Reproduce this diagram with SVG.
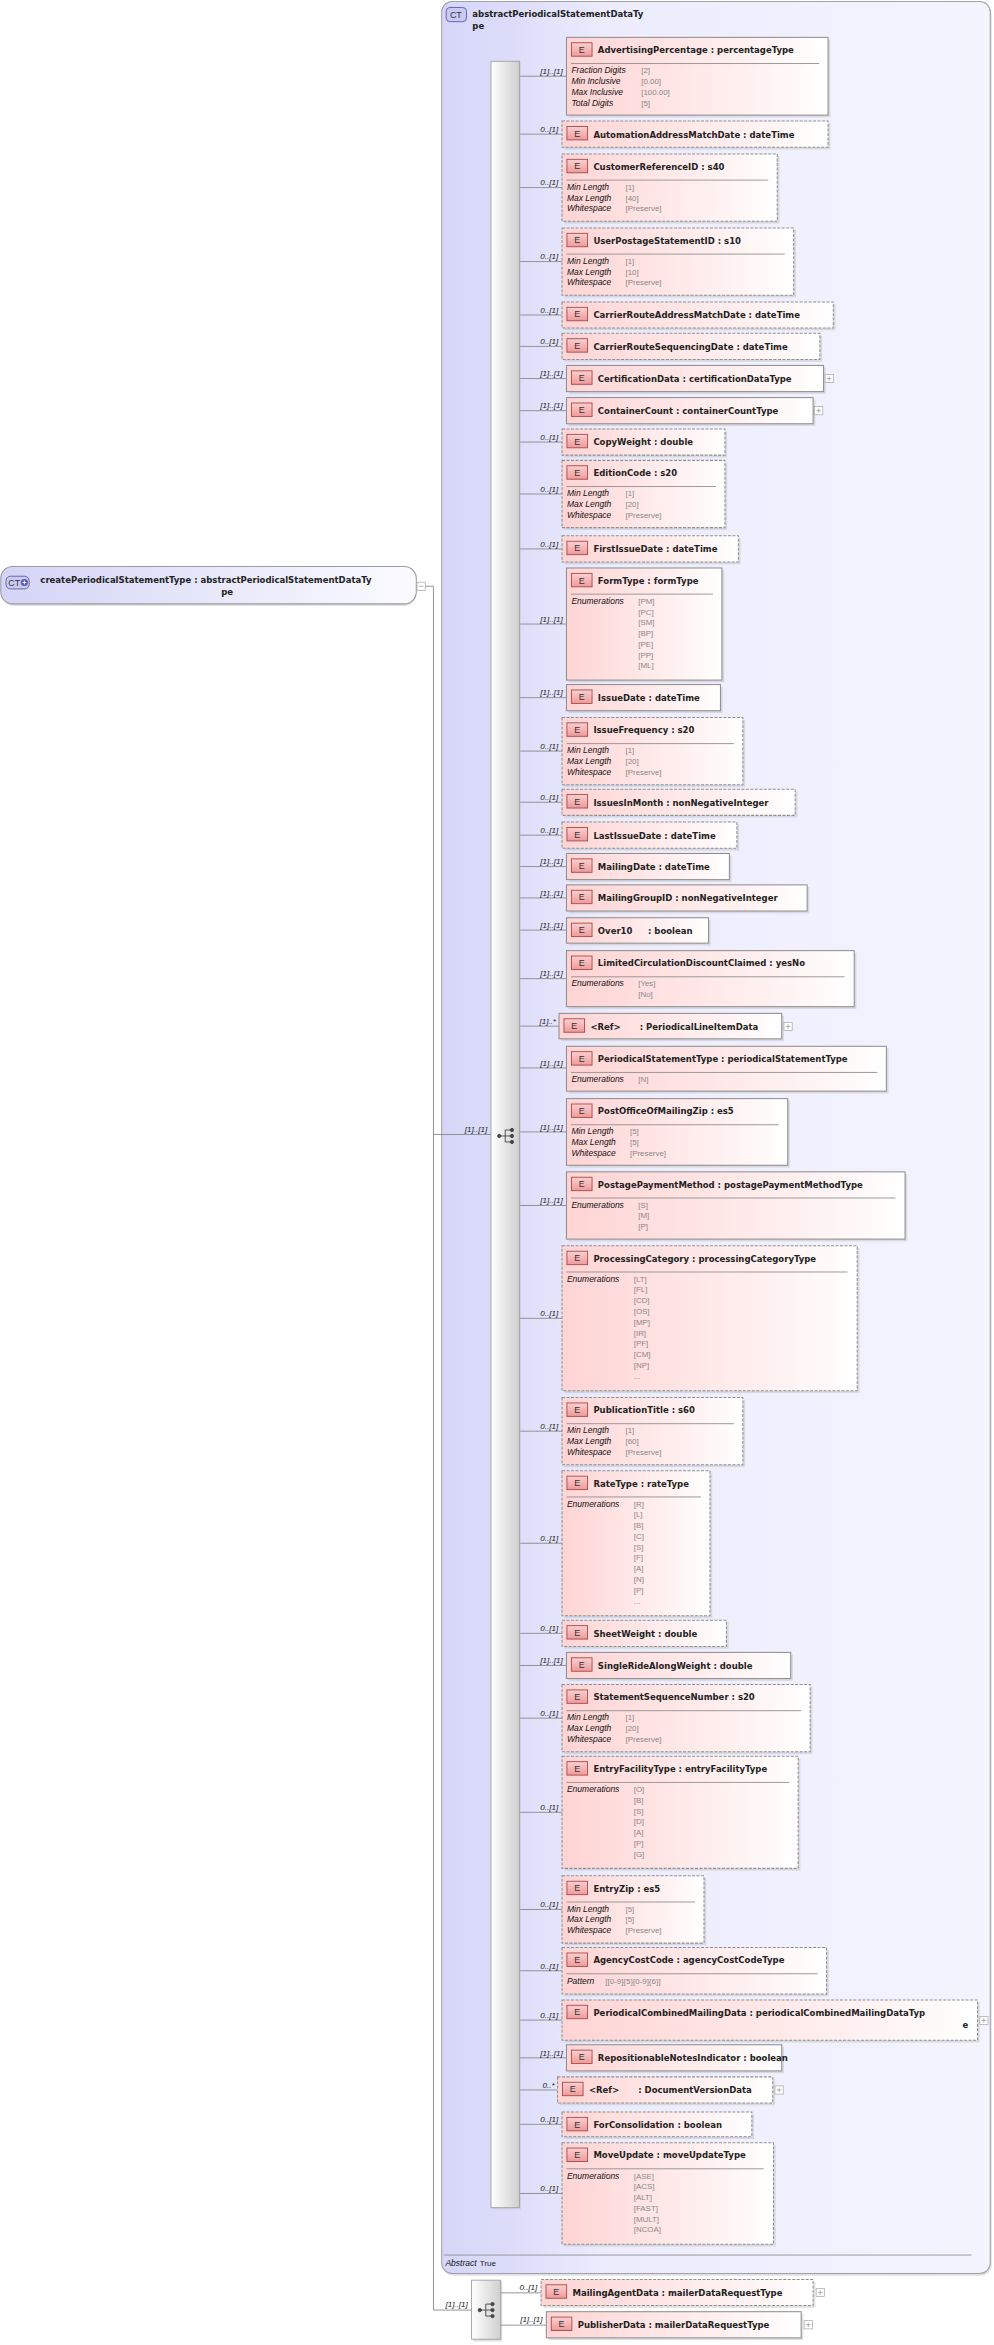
<svg xmlns="http://www.w3.org/2000/svg" width="994" height="2345" viewBox="0 0 994 2345">
<defs>
<linearGradient id="ge" x1="0" y1="0" x2="1" y2="0"><stop offset="0" stop-color="#ffd4d4"/><stop offset=".75" stop-color="#fff3f3"/><stop offset="1" stop-color="#ffffff"/></linearGradient>
<linearGradient id="gi" x1="0" y1="0" x2="0" y2="1"><stop offset="0" stop-color="#fbd0d0"/><stop offset="1" stop-color="#ee9a9a"/></linearGradient>
<linearGradient id="gct" x1="0" y1="0" x2="1" y2="0"><stop offset="0" stop-color="#d6d6f8"/><stop offset=".12" stop-color="#dcdcfa"/><stop offset=".3" stop-color="#ececfd"/><stop offset="1" stop-color="#f4f4ff"/></linearGradient>
<linearGradient id="grt" x1="0" y1="0" x2="1" y2="0"><stop offset="0" stop-color="#d4d4f6"/><stop offset="1" stop-color="#fbfbff"/></linearGradient>
<linearGradient id="gs" x1="0" y1="0" x2="1" y2="0"><stop offset="0" stop-color="#ffffff"/><stop offset="1" stop-color="#cfcfcf"/></linearGradient>
<style>
.el{fill:url(#ge);stroke:#8f8f8f;stroke-width:.7}
.d{stroke-dasharray:2 1}
.sh{fill:#bdbdbd;opacity:.45}
.ei{fill:url(#gi);stroke:#a94848;stroke-width:.6}
.ee{font:6px "Liberation Sans",Arial,sans-serif;fill:#333;text-anchor:middle}
.t{font:bold 5.7px "DejaVu Sans",sans-serif;fill:#222}
.sep{stroke:#909090;stroke-width:.6}
.fl{font:italic 5.7px "Liberation Sans",Arial,sans-serif;fill:#111}
.fv{font:5.3px "Liberation Sans",Arial,sans-serif;fill:#888}
.c{font:italic 5.4px "Liberation Sans",Arial,sans-serif;fill:#222;text-anchor:end}
.cn{stroke:#8a8a8a;stroke-width:.6;fill:none}
.pb{fill:#fff;stroke:#aaa;stroke-width:.5}
.pp{stroke:#999;stroke-width:.5}
.sq{fill:url(#gs);stroke:#a0a0a0;stroke-width:.6}
.si{fill:#444;stroke:#444;stroke-width:.6}
.ct{fill:#c9c9f2;stroke:#5b5ba8;stroke-width:.6}
.ctt{font:6px "Liberation Sans",Arial,sans-serif;fill:#333}
</style>
</defs>
<g transform="scale(1.4947)">
<g id="abstractType">
<rect x="296.5" y="2.5" width="367" height="1520" rx="7" fill="#bdbdbd" opacity=".45"/>
<rect x="295.5" y="1" width="367" height="1520" rx="7" fill="url(#gct)" stroke="#a0a0a8" stroke-width=".7"/>
<rect class="ct" x="298.5" y="5" width="13.6" height="9.5" rx="2.5"/>
<text class="ctt" x="301" y="12.3">CT</text>
<text class="t" x="316" y="11.3">abstractPeriodicalStatementDataTy</text>
<text class="t" x="316" y="19.6">pe</text>
<line x1="297" y1="1508.7" x2="650" y2="1508.7" stroke="#909090" stroke-width=".6"/>
<text class="fl" x="298" y="1516">Abstract</text>
<text x="321" y="1516" style="font:5.4px 'Liberation Sans',Arial,sans-serif;fill:#222">True</text>
</g>
<g id="root">
<rect x="1.5" y="380.5" width="277" height="25" rx="8" fill="#bdbdbd" opacity=".45"/>
<rect x="0.5" y="379" width="278" height="25" rx="8" fill="url(#grt)" stroke="#9a9aa8" stroke-width=".7"/>
<rect class="ct" x="4" y="385.5" width="15.5" height="8.5" rx="3"/>
<text class="ctt" x="5.5" y="392">CT</text>
<circle cx="16.3" cy="389.7" r="2.4" fill="#5b5ba8"/>
<path d="M15 389.7h2.6M16.3 388.4v2.6" stroke="#fff" stroke-width=".6"/>
<text class="t" x="27" y="389.8">createPeriodicalStatementType : abstractPeriodicalStatementDataTy</text>
<text class="t" x="148" y="397.8">pe</text>
<rect class="pb" x="279" y="389.5" width="5.5" height="5.5"/>
<line class="pp" x1="280.2" y1="392.2" x2="283.3" y2="392.2"/>
</g>
<g id="seq1">
<rect x="329.5" y="42" width="19" height="1436" fill="#bdbdbd" opacity=".45"/>
<rect class="sq" x="328.5" y="41" width="19" height="1436"/>
<circle class="si" cx="334" cy="760" r="1.1"/>
<path class="cn" d="M334 760h4M338 756v8M338 756h4M338 760h4M338 764h4" style="stroke:#444"/>
<circle class="si" cx="342.5" cy="756" r="1.1"/><circle class="si" cx="342.5" cy="760" r="1.1"/><circle class="si" cx="342.5" cy="764" r="1.1"/>
</g>
<g id="seq2">
<rect x="316.5" y="1526.5" width="19.5" height="40" fill="#bdbdbd" opacity=".45"/>
<rect class="sq" x="315.5" y="1525.5" width="19.5" height="39.5"/>
<circle class="si" cx="321" cy="1545.5" r="1.1"/>
<path class="cn" d="M321 1545.5h4M325 1541.5v8M325 1541.5h4M325 1545.5h4M325 1549.5h4" style="stroke:#444"/>
<circle class="si" cx="329.5" cy="1541.5" r="1.1"/><circle class="si" cx="329.5" cy="1545.5" r="1.1"/><circle class="si" cx="329.5" cy="1549.5" r="1.1"/>
</g>
<g id="connectors">
<path class="cn" d="M284.5 392.2H290V1545.5H315.5M290 759H328.5M335 1534H362M335 1555.6H365.5"/>
<text class="c" x="326" y="757.5">[1]..[1]</text>
<text class="c" x="313" y="1543.5">[1]..[1]</text>
<text class="c" x="359.5" y="1532">0..[1]</text>
<text class="c" x="363" y="1553.8">[1]..[1]</text>
<path class="cn" d="M348 51H379M348 89.75H376M348 125.5H376M348 175H376M348 210.75H376M348 231.75H376M348 253.25H379M348 274.75H379M348 295.75H376M348 330.5H376M348 367.25H376M348 417.5H379M348 466.75H379M348 502.5H376M348 536.75H376M348 558.75H376M348 579.75H379M348 600.75H379M348 622.25H379M348 654.75H379M348 686.5H374M348 714.5H379M348 757.3H379M348 806.5H379M348 882H376M348 957.5H376M348 1032.5H376M348 1092.75H376M348 1114.25H379M348 1149.5H376M348 1212.5H376M348 1277.5H376M348 1318.5H376M348 1351.5H376M348 1376.75H379M348 1398.25H373M348 1421.25H376M348 1467.5H376"/>
<text class="c" x="376.5" y="49.5">[1]..[1]</text>
<text class="c" x="373.5" y="88.2">0..[1]</text>
<text class="c" x="373.5" y="124">0..[1]</text>
<text class="c" x="373.5" y="173.5">0..[1]</text>
<text class="c" x="373.5" y="209.2">0..[1]</text>
<text class="c" x="373.5" y="230.2">0..[1]</text>
<text class="c" x="376.5" y="251.7">[1]..[1]</text>
<text class="c" x="376.5" y="273.2">[1]..[1]</text>
<text class="c" x="373.5" y="294.2">0..[1]</text>
<text class="c" x="373.5" y="329">0..[1]</text>
<text class="c" x="373.5" y="365.7">0..[1]</text>
<text class="c" x="376.5" y="416">[1]..[1]</text>
<text class="c" x="376.5" y="465.2">[1]..[1]</text>
<text class="c" x="373.5" y="501">0..[1]</text>
<text class="c" x="373.5" y="535.2">0..[1]</text>
<text class="c" x="373.5" y="557.2">0..[1]</text>
<text class="c" x="376.5" y="578.2">[1]..[1]</text>
<text class="c" x="376.5" y="599.2">[1]..[1]</text>
<text class="c" x="376.5" y="620.7">[1]..[1]</text>
<text class="c" x="376.5" y="653.2">[1]..[1]</text>
<text class="c" x="372" y="685">[1]..*</text>
<text class="c" x="376.5" y="713">[1]..[1]</text>
<text class="c" x="376.5" y="755.8">[1]..[1]</text>
<text class="c" x="376.5" y="805">[1]..[1]</text>
<text class="c" x="373.5" y="880.5">0..[1]</text>
<text class="c" x="373.5" y="956">0..[1]</text>
<text class="c" x="373.5" y="1031">0..[1]</text>
<text class="c" x="373.5" y="1091.2">0..[1]</text>
<text class="c" x="376.5" y="1112.7">[1]..[1]</text>
<text class="c" x="373.5" y="1148">0..[1]</text>
<text class="c" x="373.5" y="1211">0..[1]</text>
<text class="c" x="373.5" y="1276">0..[1]</text>
<text class="c" x="373.5" y="1317">0..[1]</text>
<text class="c" x="373.5" y="1350">0..[1]</text>
<text class="c" x="376.5" y="1375.2">[1]..[1]</text>
<text class="c" x="371" y="1396.7">0..*</text>
<text class="c" x="373.5" y="1419.7">0..[1]</text>
<text class="c" x="373.5" y="1466">0..[1]</text>
</g>

<g id="e1" transform="translate(379,25)"><rect class="sh" x="1.5" y="1.5" width="175" height="52"/><rect class="el" width="175" height="52"/><rect class="ei" x="3.3" y="3.6" width="13.8" height="9"/><text class="ee" x="10.2" y="10.4">E</text><text class="t" x="21" y="10.6">AdvertisingPercentage : percentageType</text><line class="sep" x1="3" y1="17.5" x2="169" y2="17.5"/>
<text class="fl" x="3.3" y="24">Fraction Digits</text><text class="fv" x="50" y="24">[2]</text>
<text class="fl" x="3.3" y="31.2">Min Inclusive</text><text class="fv" x="50" y="31.2">[0.00]</text>
<text class="fl" x="3.3" y="38.4">Max Inclusive</text><text class="fv" x="50" y="38.4">[100.00]</text>
<text class="fl" x="3.3" y="45.6">Total Digits</text><text class="fv" x="50" y="45.6">[5]</text></g>

<g id="e2" transform="translate(376,81)"><rect class="sh" x="1.5" y="1.5" width="178" height="17.5"/><rect class="el d" width="178" height="17.5"/><rect class="ei" x="3.3" y="3.6" width="13.8" height="9"/><text class="ee" x="10.2" y="10.4">E</text><text class="t" x="21" y="11">AutomationAddressMatchDate : dateTime</text></g>

<g id="e3" transform="translate(376,103)"><rect class="sh" x="1.5" y="1.5" width="144" height="45"/><rect class="el d" width="144" height="45"/><rect class="ei" x="3.3" y="3.6" width="13.8" height="9"/><text class="ee" x="10.2" y="10.4">E</text><text class="t" x="21" y="10.6">CustomerReferenceID : s40</text><line class="sep" x1="3" y1="17.5" x2="138" y2="17.5"/>
<text class="fl" x="3.3" y="24">Min Length</text><text class="fv" x="42.5" y="24">[1]</text>
<text class="fl" x="3.3" y="31.2">Max Length</text><text class="fv" x="42.5" y="31.2">[40]</text>
<text class="fl" x="3.3" y="38.4">Whitespace</text><text class="fv" x="42.5" y="38.4">[Preserve]</text></g>

<g id="e4" transform="translate(376,152.5)"><rect class="sh" x="1.5" y="1.5" width="155" height="45"/><rect class="el d" width="155" height="45"/><rect class="ei" x="3.3" y="3.6" width="13.8" height="9"/><text class="ee" x="10.2" y="10.4">E</text><text class="t" x="21" y="10.6">UserPostageStatementID : s10</text><line class="sep" x1="3" y1="17.5" x2="149" y2="17.5"/>
<text class="fl" x="3.3" y="24">Min Length</text><text class="fv" x="42.5" y="24">[1]</text>
<text class="fl" x="3.3" y="31.2">Max Length</text><text class="fv" x="42.5" y="31.2">[10]</text>
<text class="fl" x="3.3" y="38.4">Whitespace</text><text class="fv" x="42.5" y="38.4">[Preserve]</text></g>

<g id="e5" transform="translate(376,202)"><rect class="sh" x="1.5" y="1.5" width="181.5" height="17.5"/><rect class="el d" width="181.5" height="17.5"/><rect class="ei" x="3.3" y="3.6" width="13.8" height="9"/><text class="ee" x="10.2" y="10.4">E</text><text class="t" x="21" y="11">CarrierRouteAddressMatchDate : dateTime</text></g>

<g id="e6" transform="translate(376,223)"><rect class="sh" x="1.5" y="1.5" width="172.5" height="17.5"/><rect class="el d" width="172.5" height="17.5"/><rect class="ei" x="3.3" y="3.6" width="13.8" height="9"/><text class="ee" x="10.2" y="10.4">E</text><text class="t" x="21" y="11">CarrierRouteSequencingDate : dateTime</text></g>

<g id="e7" transform="translate(379,244.5)"><rect class="sh" x="1.5" y="1.5" width="172" height="17.5"/><rect class="el" width="172" height="17.5"/><rect class="ei" x="3.3" y="3.6" width="13.8" height="9"/><text class="ee" x="10.2" y="10.4">E</text><text class="t" x="21" y="11">CertificationData : certificationDataType</text><rect class="pb" x="173" y="6" width="5.5" height="5.5"/><path class="pp" d="M174.2 8.75h3.1M175.75 7.2v3.1"/></g>

<g id="e8" transform="translate(379,266)"><rect class="sh" x="1.5" y="1.5" width="165" height="17.5"/><rect class="el" width="165" height="17.5"/><rect class="ei" x="3.3" y="3.6" width="13.8" height="9"/><text class="ee" x="10.2" y="10.4">E</text><text class="t" x="21" y="11">ContainerCount : containerCountType</text><rect class="pb" x="166" y="6" width="5.5" height="5.5"/><path class="pp" d="M167.2 8.75h3.1M168.75 7.2v3.1"/></g>

<g id="e9" transform="translate(376,287)"><rect class="sh" x="1.5" y="1.5" width="109" height="17.5"/><rect class="el d" width="109" height="17.5"/><rect class="ei" x="3.3" y="3.6" width="13.8" height="9"/><text class="ee" x="10.2" y="10.4">E</text><text class="t" x="21" y="11">CopyWeight : double</text></g>

<g id="e10" transform="translate(376,308)"><rect class="sh" x="1.5" y="1.5" width="109" height="45"/><rect class="el d" width="109" height="45"/><rect class="ei" x="3.3" y="3.6" width="13.8" height="9"/><text class="ee" x="10.2" y="10.4">E</text><text class="t" x="21" y="10.6">EditionCode : s20</text><line class="sep" x1="3" y1="17.5" x2="103" y2="17.5"/>
<text class="fl" x="3.3" y="24">Min Length</text><text class="fv" x="42.5" y="24">[1]</text>
<text class="fl" x="3.3" y="31.2">Max Length</text><text class="fv" x="42.5" y="31.2">[20]</text>
<text class="fl" x="3.3" y="38.4">Whitespace</text><text class="fv" x="42.5" y="38.4">[Preserve]</text></g>

<g id="e11" transform="translate(376,358.5)"><rect class="sh" x="1.5" y="1.5" width="118" height="17.5"/><rect class="el d" width="118" height="17.5"/><rect class="ei" x="3.3" y="3.6" width="13.8" height="9"/><text class="ee" x="10.2" y="10.4">E</text><text class="t" x="21" y="11">FirstIssueDate : dateTime</text></g>

<g id="e12" transform="translate(379,380)"><rect class="sh" x="1.5" y="1.5" width="104" height="75"/><rect class="el" width="104" height="75"/><rect class="ei" x="3.3" y="3.6" width="13.8" height="9"/><text class="ee" x="10.2" y="10.4">E</text><text class="t" x="21" y="10.6">FormType : formType</text><line class="sep" x1="3" y1="17.5" x2="98" y2="17.5"/>
<text class="fl" x="3.3" y="24">Enumerations</text><text class="fv" x="48" y="24">[PM]</text><text class="fv" x="48" y="31.2">[PC]</text><text class="fv" x="48" y="38.4">[SM]</text><text class="fv" x="48" y="45.6">[BP]</text><text class="fv" x="48" y="52.8">[PE]</text><text class="fv" x="48" y="60">[PP]</text><text class="fv" x="48" y="67.2">[ML]</text></g>

<g id="e13" transform="translate(379,458)"><rect class="sh" x="1.5" y="1.5" width="103" height="17.5"/><rect class="el" width="103" height="17.5"/><rect class="ei" x="3.3" y="3.6" width="13.8" height="9"/><text class="ee" x="10.2" y="10.4">E</text><text class="t" x="21" y="11">IssueDate : dateTime</text></g>

<g id="e14" transform="translate(376,480)"><rect class="sh" x="1.5" y="1.5" width="121" height="45"/><rect class="el d" width="121" height="45"/><rect class="ei" x="3.3" y="3.6" width="13.8" height="9"/><text class="ee" x="10.2" y="10.4">E</text><text class="t" x="21" y="10.6">IssueFrequency : s20</text><line class="sep" x1="3" y1="17.5" x2="115" y2="17.5"/>
<text class="fl" x="3.3" y="24">Min Length</text><text class="fv" x="42.5" y="24">[1]</text>
<text class="fl" x="3.3" y="31.2">Max Length</text><text class="fv" x="42.5" y="31.2">[20]</text>
<text class="fl" x="3.3" y="38.4">Whitespace</text><text class="fv" x="42.5" y="38.4">[Preserve]</text></g>

<g id="e15" transform="translate(376,528)"><rect class="sh" x="1.5" y="1.5" width="156" height="17.5"/><rect class="el d" width="156" height="17.5"/><rect class="ei" x="3.3" y="3.6" width="13.8" height="9"/><text class="ee" x="10.2" y="10.4">E</text><text class="t" x="21" y="11">IssuesInMonth : nonNegativeInteger</text></g>

<g id="e16" transform="translate(376,550)"><rect class="sh" x="1.5" y="1.5" width="117" height="17.5"/><rect class="el d" width="117" height="17.5"/><rect class="ei" x="3.3" y="3.6" width="13.8" height="9"/><text class="ee" x="10.2" y="10.4">E</text><text class="t" x="21" y="11">LastIssueDate : dateTime</text></g>

<g id="e17" transform="translate(379,571)"><rect class="sh" x="1.5" y="1.5" width="109" height="17.5"/><rect class="el" width="109" height="17.5"/><rect class="ei" x="3.3" y="3.6" width="13.8" height="9"/><text class="ee" x="10.2" y="10.4">E</text><text class="t" x="21" y="11">MailingDate : dateTime</text></g>

<g id="e18" transform="translate(379,592)"><rect class="sh" x="1.5" y="1.5" width="161" height="17.5"/><rect class="el" width="161" height="17.5"/><rect class="ei" x="3.3" y="3.6" width="13.8" height="9"/><text class="ee" x="10.2" y="10.4">E</text><text class="t" x="21" y="11">MailingGroupID : nonNegativeInteger</text></g>

<g id="e19" transform="translate(379,614)"><rect class="sh" x="1.5" y="1.5" width="95" height="17"/><rect class="el" width="95" height="17"/><rect class="ei" x="3.3" y="3.6" width="13.8" height="9"/><text class="ee" x="10.2" y="10.4">E</text><text class="t" x="21" y="11">Over10</text><text class="t" x="54.5" y="11">: boolean</text></g>

<g id="e20" transform="translate(379,636)"><rect class="sh" x="1.5" y="1.5" width="192.5" height="37.5"/><rect class="el" width="192.5" height="37.5"/><rect class="ei" x="3.3" y="3.6" width="13.8" height="9"/><text class="ee" x="10.2" y="10.4">E</text><text class="t" x="21" y="10.6">LimitedCirculationDiscountClaimed : yesNo</text><line class="sep" x1="3" y1="17.5" x2="186" y2="17.5"/>
<text class="fl" x="3.3" y="24">Enumerations</text><text class="fv" x="48" y="24">[Yes]</text><text class="fv" x="48" y="31.2">[No]</text></g>

<g id="e21" transform="translate(374,678)"><rect class="sh" x="1.5" y="1.5" width="149" height="17"/><rect class="el" width="149" height="17"/><rect class="ei" x="3.3" y="3.6" width="13.8" height="9"/><text class="ee" x="10.2" y="10.4">E</text><text class="t" x="21" y="10.8">&lt;Ref&gt;</text><text class="t" x="54" y="10.8">: PeriodicalLineItemData</text><rect class="pb" x="150.5" y="6" width="5.5" height="5.5"/><path class="pp" d="M151.7 8.75h3.1M153.25 7.2v3.1"/></g>

<g id="e22" transform="translate(379,700)"><rect class="sh" x="1.5" y="1.5" width="214" height="30"/><rect class="el" width="214" height="30"/><rect class="ei" x="3.3" y="3.6" width="13.8" height="9"/><text class="ee" x="10.2" y="10.4">E</text><text class="t" x="21" y="10.6">PeriodicalStatementType : periodicalStatementType</text><line class="sep" x1="3" y1="17.5" x2="208" y2="17.5"/>
<text class="fl" x="3.3" y="24">Enumerations</text><text class="fv" x="48" y="24">[N]</text></g>

<g id="e23" transform="translate(379,735)"><rect class="sh" x="1.5" y="1.5" width="148" height="44.6"/><rect class="el" width="148" height="44.6"/><rect class="ei" x="3.3" y="3.6" width="13.8" height="9"/><text class="ee" x="10.2" y="10.4">E</text><text class="t" x="21" y="10.6">PostOfficeOfMailingZip : es5</text><line class="sep" x1="3" y1="17.5" x2="142" y2="17.5"/>
<text class="fl" x="3.3" y="24">Min Length</text><text class="fv" x="42.5" y="24">[5]</text>
<text class="fl" x="3.3" y="31.2">Max Length</text><text class="fv" x="42.5" y="31.2">[5]</text>
<text class="fl" x="3.3" y="38.4">Whitespace</text><text class="fv" x="42.5" y="38.4">[Preserve]</text></g>

<g id="e24" transform="translate(379,784)"><rect class="sh" x="1.5" y="1.5" width="226.5" height="45"/><rect class="el" width="226.5" height="45"/><rect class="ei" x="3.3" y="3.6" width="13.8" height="9"/><text class="ee" x="10.2" y="10.4">E</text><text class="t" x="21" y="10.6">PostagePaymentMethod : postagePaymentMethodType</text><line class="sep" x1="3" y1="17.5" x2="220" y2="17.5"/>
<text class="fl" x="3.3" y="24">Enumerations</text><text class="fv" x="48" y="24">[S]</text><text class="fv" x="48" y="31.2">[M]</text><text class="fv" x="48" y="38.4">[P]</text></g>

<g id="e25" transform="translate(376,833.5)"><rect class="sh" x="1.5" y="1.5" width="197.5" height="97"/><rect class="el d" width="197.5" height="97"/><rect class="ei" x="3.3" y="3.6" width="13.8" height="9"/><text class="ee" x="10.2" y="10.4">E</text><text class="t" x="21" y="10.6">ProcessingCategory : processingCategoryType</text><line class="sep" x1="3" y1="17.5" x2="191" y2="17.5"/>
<text class="fl" x="3.3" y="24">Enumerations</text><text class="fv" x="48" y="24">[LT]</text><text class="fv" x="48" y="31.2">[FL]</text><text class="fv" x="48" y="38.4">[CD]</text><text class="fv" x="48" y="45.6">[OS]</text><text class="fv" x="48" y="52.8">[MP]</text><text class="fv" x="48" y="60">[IR]</text><text class="fv" x="48" y="67.2">[PF]</text><text class="fv" x="48" y="74.4">[CM]</text><text class="fv" x="48" y="81.6">[NP]</text><text class="fv" x="48" y="88.8">...</text></g>

<g id="e26" transform="translate(376,935)"><rect class="sh" x="1.5" y="1.5" width="121" height="45"/><rect class="el d" width="121" height="45"/><rect class="ei" x="3.3" y="3.6" width="13.8" height="9"/><text class="ee" x="10.2" y="10.4">E</text><text class="t" x="21" y="10.6">PublicationTitle : s60</text><line class="sep" x1="3" y1="17.5" x2="115" y2="17.5"/>
<text class="fl" x="3.3" y="24">Min Length</text><text class="fv" x="42.5" y="24">[1]</text>
<text class="fl" x="3.3" y="31.2">Max Length</text><text class="fv" x="42.5" y="31.2">[60]</text>
<text class="fl" x="3.3" y="38.4">Whitespace</text><text class="fv" x="42.5" y="38.4">[Preserve]</text></g>

<g id="e27" transform="translate(376,984)"><rect class="sh" x="1.5" y="1.5" width="99" height="97"/><rect class="el d" width="99" height="97"/><rect class="ei" x="3.3" y="3.6" width="13.8" height="9"/><text class="ee" x="10.2" y="10.4">E</text><text class="t" x="21" y="10.6">RateType : rateType</text><line class="sep" x1="3" y1="17.5" x2="93" y2="17.5"/>
<text class="fl" x="3.3" y="24">Enumerations</text><text class="fv" x="48" y="24">[R]</text><text class="fv" x="48" y="31.2">[L]</text><text class="fv" x="48" y="38.4">[B]</text><text class="fv" x="48" y="45.6">[C]</text><text class="fv" x="48" y="52.8">[S]</text><text class="fv" x="48" y="60">[F]</text><text class="fv" x="48" y="67.2">[A]</text><text class="fv" x="48" y="74.4">[N]</text><text class="fv" x="48" y="81.6">[P]</text><text class="fv" x="48" y="88.8">...</text></g>

<g id="e28" transform="translate(376,1084)"><rect class="sh" x="1.5" y="1.5" width="110" height="17.5"/><rect class="el d" width="110" height="17.5"/><rect class="ei" x="3.3" y="3.6" width="13.8" height="9"/><text class="ee" x="10.2" y="10.4">E</text><text class="t" x="21" y="11">SheetWeight : double</text></g>

<g id="e29" transform="translate(379,1105.5)"><rect class="sh" x="1.5" y="1.5" width="150" height="17.5"/><rect class="el" width="150" height="17.5"/><rect class="ei" x="3.3" y="3.6" width="13.8" height="9"/><text class="ee" x="10.2" y="10.4">E</text><text class="t" x="21" y="11">SingleRideAlongWeight : double</text></g>

<g id="e30" transform="translate(376,1127)"><rect class="sh" x="1.5" y="1.5" width="166" height="45"/><rect class="el d" width="166" height="45"/><rect class="ei" x="3.3" y="3.6" width="13.8" height="9"/><text class="ee" x="10.2" y="10.4">E</text><text class="t" x="21" y="10.6">StatementSequenceNumber : s20</text><line class="sep" x1="3" y1="17.5" x2="160" y2="17.5"/>
<text class="fl" x="3.3" y="24">Min Length</text><text class="fv" x="42.5" y="24">[1]</text>
<text class="fl" x="3.3" y="31.2">Max Length</text><text class="fv" x="42.5" y="31.2">[20]</text>
<text class="fl" x="3.3" y="38.4">Whitespace</text><text class="fv" x="42.5" y="38.4">[Preserve]</text></g>

<g id="e31" transform="translate(376,1175)"><rect class="sh" x="1.5" y="1.5" width="158" height="75"/><rect class="el d" width="158" height="75"/><rect class="ei" x="3.3" y="3.6" width="13.8" height="9"/><text class="ee" x="10.2" y="10.4">E</text><text class="t" x="21" y="10.6">EntryFacilityType : entryFacilityType</text><line class="sep" x1="3" y1="17.5" x2="152" y2="17.5"/>
<text class="fl" x="3.3" y="24">Enumerations</text><text class="fv" x="48" y="24">[O]</text><text class="fv" x="48" y="31.2">[B]</text><text class="fv" x="48" y="38.4">[S]</text><text class="fv" x="48" y="45.6">[D]</text><text class="fv" x="48" y="52.8">[A]</text><text class="fv" x="48" y="60">[P]</text><text class="fv" x="48" y="67.2">[G]</text></g>

<g id="e32" transform="translate(376,1255)"><rect class="sh" x="1.5" y="1.5" width="95" height="45"/><rect class="el d" width="95" height="45"/><rect class="ei" x="3.3" y="3.6" width="13.8" height="9"/><text class="ee" x="10.2" y="10.4">E</text><text class="t" x="21" y="10.6">EntryZip : es5</text><line class="sep" x1="3" y1="17.5" x2="89" y2="17.5"/>
<text class="fl" x="3.3" y="24">Min Length</text><text class="fv" x="42.5" y="24">[5]</text>
<text class="fl" x="3.3" y="31.2">Max Length</text><text class="fv" x="42.5" y="31.2">[5]</text>
<text class="fl" x="3.3" y="38.4">Whitespace</text><text class="fv" x="42.5" y="38.4">[Preserve]</text></g>

<g id="e33" transform="translate(376,1303)"><rect class="sh" x="1.5" y="1.5" width="177" height="31"/><rect class="el d" width="177" height="31"/><rect class="ei" x="3.3" y="3.6" width="13.8" height="9"/><text class="ee" x="10.2" y="10.4">E</text><text class="t" x="21" y="10.6">AgencyCostCode : agencyCostCodeType</text><line class="sep" x1="3" y1="17.5" x2="171" y2="17.5"/>
<text class="fl" x="3.3" y="24.5">Pattern</text><text class="fv" x="29" y="24.5">[[0-9]{5}[0-9]{6}]</text></g>

<g id="e34" transform="translate(376,1338)"><rect class="sh" x="1.5" y="1.5" width="278" height="27"/><rect class="el d" width="278" height="27"/><rect class="ei" x="3.3" y="3.6" width="13.8" height="9"/><text class="ee" x="10.2" y="10.4">E</text><text class="t" x="21" y="10.6">PeriodicalCombinedMailingData : periodicalCombinedMailingDataTyp</text><text class="t" x="268" y="18.5">e</text><rect class="pb" x="279.5" y="11" width="5.5" height="5.5"/><path class="pp" d="M280.7 13.75h3.1M282.25 12.2v3.1"/></g>

<g id="e35" transform="translate(379,1368)"><rect class="sh" x="1.5" y="1.5" width="144" height="17.5"/><rect class="el" width="144" height="17.5"/><rect class="ei" x="3.3" y="3.6" width="13.8" height="9"/><text class="ee" x="10.2" y="10.4">E</text><text class="t" x="21" y="11">RepositionableNotesIndicator : boolean</text></g>

<g id="e36" transform="translate(373,1389.5)"><rect class="sh" x="1.5" y="1.5" width="144" height="17.5"/><rect class="el d" width="144" height="17.5"/><rect class="ei" x="3.3" y="3.6" width="13.8" height="9"/><text class="ee" x="10.2" y="10.4">E</text><text class="t" x="21" y="11">&lt;Ref&gt;</text><text class="t" x="54" y="11">: DocumentVersionData</text><rect class="pb" x="145.5" y="6" width="5.5" height="5.5"/><path class="pp" d="M146.7 8.75h3.1M148.25 7.2v3.1"/></g>

<g id="e37" transform="translate(376,1413)"><rect class="sh" x="1.5" y="1.5" width="127" height="16.5"/><rect class="el d" width="127" height="16.5"/><rect class="ei" x="3.3" y="3.6" width="13.8" height="9"/><text class="ee" x="10.2" y="10.4">E</text><text class="t" x="21" y="10.7">ForConsolidation : boolean</text></g>

<g id="e38" transform="translate(376,1433.5)"><rect class="sh" x="1.5" y="1.5" width="141.5" height="68"/><rect class="el d" width="141.5" height="68"/><rect class="ei" x="3.3" y="3.6" width="13.8" height="9"/><text class="ee" x="10.2" y="10.4">E</text><text class="t" x="21" y="10.6">MoveUpdate : moveUpdateType</text><line class="sep" x1="3" y1="17.5" x2="135" y2="17.5"/>
<text class="fl" x="3.3" y="24">Enumerations</text><text class="fv" x="48" y="24">[ASE]</text><text class="fv" x="48" y="31.2">[ACS]</text><text class="fv" x="48" y="38.4">[ALT]</text><text class="fv" x="48" y="45.6">[FAST]</text><text class="fv" x="48" y="52.8">[MULT]</text><text class="fv" x="48" y="60">[NCOA]</text></g>

<g id="mailingAgent" transform="translate(362,1525)"><rect class="sh" x="1.5" y="1.5" width="182" height="17.5"/><rect class="el d" width="182" height="17.5"/><rect class="ei" x="3.3" y="3.6" width="13.8" height="9"/><text class="ee" x="10.2" y="10.4">E</text><text class="t" x="21" y="11">MailingAgentData : mailerDataRequestType</text><rect class="pb" x="184" y="6" width="5.5" height="5.5"/><path class="pp" d="M185.2 8.75h3.1M186.75 7.2v3.1"/></g>

<g id="publisher" transform="translate(365.5,1546.6)"><rect class="sh" x="1.5" y="1.5" width="170.5" height="17.5"/><rect class="el" width="170.5" height="17.5"/><rect class="ei" x="3.3" y="3.6" width="13.8" height="9"/><text class="ee" x="10.2" y="10.4">E</text><text class="t" x="21" y="11">PublisherData : mailerDataRequestType</text><rect class="pb" x="172.5" y="6" width="5.5" height="5.5"/><path class="pp" d="M173.7 8.75h3.1M175.25 7.2v3.1"/></g>
</g>
</svg>
